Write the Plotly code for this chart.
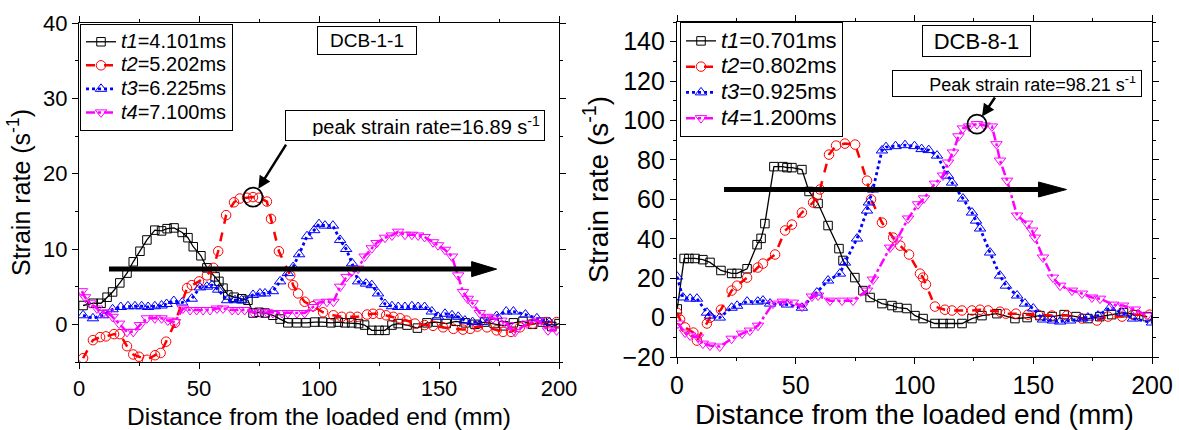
import plotly.graph_objects as go

# ---------------- DCB-1-1 (left panel) ----------------
a_t1_x = [1.7, 5.9, 9.2, 11.7, 14, 17, 20, 22.6, 25.4, 28.3, 31.6, 34.4, 36.7, 39.6, 43, 45.4, 47.6, 50.8, 53.3, 56.7,
          58.3, 60, 62, 64.6, 67.8, 70.4, 72.5, 75, 77.5, 80.8, 83.8, 87, 90.8, 94.6, 98.3, 101.5, 105, 108, 110.8, 113.6,
          116.5, 119, 122, 125, 127.5, 130.4, 133, 136.7, 141, 145, 149, 153, 157, 161, 165, 169, 173, 177, 181, 185,
          189, 193, 197, 200]
a_t1_y = [2.5, 2.8, 2.8, 3.6, 4.3, 5.5, 6.8, 8.3, 9.7, 11.2, 12.5, 12.4, 12.7, 12.8, 12.2, 11.5, 10.3, 9.1, 7.5, 6.3,
          5.7, 4.8, 3.9, 3.6, 3.4, 3.2, 1.5, 1.6, 1.5, 1.2, 0.7, 0.2, 0.2, 0.2, 0.3, 0.3, 0.2, 0.3, 0.2, 0.2,
          0.1, -0.1, -0.8, -0.8, -0.8, -0.1, 0.1, -0.1, -0.5, 0.2, 0.3, 0.1, 0.4, 0.2, 0.0, 0.3, 0.1, -0.2, 0.2, 0.4,
          0.0, 0.3, -0.3, 0.1]

a_t2_x = [1.7, 5.8, 8.8, 11.2, 14.6, 17, 20, 22.6, 25, 28.3, 31.7, 34, 36.3, 40, 45, 47, 50, 53.3, 56, 58, 61.3, 64.6,
          67, 70, 72.5, 75, 78.3, 80, 83.3, 88, 89.2, 91.3, 94, 97.5, 101.7, 106, 109.5, 113, 116, 120, 122.5, 125.4,
          128, 131, 133.8, 136.5, 140, 144, 147.5, 151.7, 156, 160, 163, 166, 170, 174, 176.7, 180, 183.7, 189, 195, 199]
a_t2_y = [-4.5, -2.1, -1.7, -1.6, -1.3, -1.3, -2.9, -4.0, -4.3, -4.7, -4.1, -3.8, -2.3, 0.2, 4.8, 5.2, 5.7, 6.5, 7.5,
          9.7, 14.5, 16.2, 16.7, 16.8, 16.89, 16.8, 16.3, 14.0, 9.7, 6.5, 5.2, 4.1, 3.0, 2.4, 1.6, 1.2, 1.0, 1.0, 1.0,
          1.3, 1.4, 1.4, 1.2, 1.0, 0.8, 0.5, 0.1, -0.1, -0.2, -0.4, -0.6, -0.7, -0.6, -0.3, -0.4, -0.8, -1.0, -1.0,
          -0.4, 0.1, 0.3, 0.3]

a_t3_x = [1.7, 5.8, 10, 14, 17.4, 20.4, 23.3, 26.1, 28.8, 31.6, 34.4, 36.5, 39.5, 43, 47, 50.4, 53.3, 55.4, 58, 61.7,
          65, 67.8, 72.5, 75.4, 77.5, 80.8, 83.8, 87, 89.2, 91.7, 95, 98, 100, 102.5, 105.8, 108.8, 111.3, 113.8, 116.3,
          119.6, 122, 124.6, 127.5, 130.4, 133, 135.8, 138.7, 141.3, 144, 147, 149.6, 152.5, 155.4, 158, 160.8, 164,
          167.9, 174, 178, 181, 186, 190.8, 196]
a_t3_y = [1.2, 0.8, 1.2, 2.0, 2.3, 2.4, 2.4, 2.4, 2.3, 2.4, 2.5, 2.7, 3.1, 2.9, 3.4, 4.9, 5.0, 5.2, 4.6, 3.2,
          3.2, 3.2, 3.9, 4.1, 4.1, 4.4, 5.7, 6.8, 7.6, 9.3, 11.7, 12.5, 13.3, 13.1, 13.1, 11.2, 10.0, 8.1, 5.7,
          5.4, 5.2, 4.1, 2.7, 2.4, 2.3, 2.3, 2.4, 2.3, 2.3, 1.7, 1.0, 1.4, 1.2, 1.0, 0.5, 0.3,
          0.3, 1.1, 1.7, 1.7, 1.3, 0.8, 0.3]

a_t4_x = [1.2, 2.5, 4.6, 7.5, 10, 12, 14, 16.7, 20, 22.6, 25.4, 28.3, 31.6, 34.4, 37, 40, 43.3, 46.3, 49, 51.7, 54.6,
          57.5, 60, 63.8, 66.3, 69, 72.5, 75.4, 78.3, 80.8, 84.6, 87, 90.8, 94, 97.5, 100, 103.3, 106, 108.8, 111.5,
          113.6, 116.3, 119, 122, 124, 127.5, 130.4, 133, 135.8, 138.7, 141.3, 144, 147.5, 149.6, 152.5, 155.4, 158,
          160, 162, 164, 167, 170, 172.5, 176, 178.8, 181.7, 186.7, 191.3, 195.4, 199]
a_t4_y = [4.4, 3.6, 2.8, 2.1, 1.5, 1.6, 1.0, 0.1, -1.0, -1.0, -0.1, 0.8, 0.8, 0.8, 0.5, 0.3, 2.1, 1.9, 1.9, 1.9, 1.9,
          2.1, 2.1, 1.9, 1.9, 1.9, 1.6, 1.6, 1.6, 1.5, 1.5, 1.5, 1.5, 1.5, 2.3, 2.9, 3.0, 3.0, 5.0, 6.3,
          7.0, 7.4, 9.0, 10.1, 10.8, 11.5, 11.8, 12.3, 11.9, 11.9, 11.8, 11.6, 10.9, 10.5, 9.9, 9.0, 6.5,
          4.3, 3.4, 2.8, 1.5, 1.0, 0.8, 0.5, -0.1, -1.0, 0.1, 0.5, -0.8, -0.8]

a_names = ["t1=4.101ms", "t2=5.202ms", "t3=6.225ms", "t4=7.100ms"]
a_peak = (72.5, 16.89)

# ---------------- DCB-8-1 (right panel) ----------------
b_t1_x = [0.1, 3, 5, 7.6, 10.9, 13.9, 18.5, 23, 25.3, 29.5, 33.7, 35.4, 37, 40.8, 44.6, 46.3, 48.4, 52.6, 55.6, 59.4,
          63.6, 68.2, 69.9, 74.9, 78.3, 81.3, 86.3, 90.5, 93, 96.8, 100.2, 103.6, 108.6, 112, 115, 120, 124.2, 128.4,
          134.7, 142.3, 147.4, 152.8, 158, 163, 168, 173, 178, 183, 188, 193, 198]
b_t1_y = [4.4, 30, 30, 30, 29.4, 28, 23.9, 22.4, 22.4, 24.8, 37, 40.2, 47.7, 76.6, 76.6, 76.1, 76.1, 75.1, 64, 57.9,
          46.7, 35, 29, 20.3, 13.7, 10.2, 7.1, 6.1, 5.1, 4.6, 1, -0.5, -3, -3, -3, -3, -0.5, 1,
          2, -0.5, 0, 1, 0.5, 1.5, 0.5, -0.5, 0.5, 1.5, 2.5, 1.5, 0.5]

b_t2_x = [0, 1.3, 3.4, 6.9, 8.4, 12.6, 13.9, 18.5, 23, 25.3, 29.5, 34, 36.2, 41.3, 45.5, 48.4, 52.6, 57.3, 58.9, 60.2,
          64, 67, 70.7, 75, 80, 81.7, 86.3, 91, 94, 97.7, 102.3, 103.6, 104.8, 108.6, 112.8, 115.8, 120, 124.2, 127.6,
          131, 136, 138.5, 142.7, 147.8, 152, 157.9, 164.2, 170.5, 176.8, 181.5, 187.4, 192, 199]
b_t2_y = [2.5, -1, -5, -7.6, -11.7, -3, 0, 4, 13.7, 16.2, 20.3, 25.4, 27.4, 32, 44.2, 47.2, 53.3, 58.4, 61.9, 65,
          82.7, 87.3, 88.3, 87.8, 69.5, 60, 48.2, 40.6, 36.5, 32, 22.3, 20.3, 16.8, 5.6, 4, 3.6, 3.6, 3.6, 4,
          3.6, 3, 2, 2, 1.5, 1.5, 1, 1, -0.5, -1.5, 0.5, 0.5, 1.5, 1.5]

b_t3_x = [0, 2.5, 5.5, 8.4, 12.6, 13.9, 18, 23, 25.3, 29.5, 34, 36.2, 39.2, 46.3, 52.6, 58.9, 63.6, 68.6, 70.7, 75.8,
          80, 80.8, 82.5, 86.3, 88, 92, 96, 100, 103, 106, 109.5, 114.1, 115.8, 120.4, 124.2, 125.9, 127.6, 131.8,
          136, 138.5, 143.2, 146.5, 150, 154.1, 158.3, 161.3, 165.5, 170.5, 173, 177.3, 182.3, 187.4, 192, 200]
b_t3_y = [20.8, 10.2, 9.6, 9.6, 2.5, 1, 0, 5, 6, 8.1, 8.1, 8.6, 7.1, 6.6, 5, 12.7, 18.8, 22.3, 27.9, 40.1,
          54.3, 58.4, 65, 84.8, 86.5, 87, 87.5, 87, 85.5, 85, 82.2, 72, 68.5, 60.4, 53.3, 49.2, 45.2, 33,
          21.3, 16.2, 11.2, 7.1, 4.6, -1, -1.5, -2, -1.5, -0.5, 0, 1, 5, 2.5, -0.5, -2.5]

b_t4_x = [0.4, 3.4, 5.5, 8.8, 10.9, 13.9, 18, 23, 27.4, 30.7, 34.1, 40.4, 44.6, 48.8, 52.6, 56.8, 59.4, 64.4, 69.5,
          74.1, 80, 82.5, 89.7, 92.6, 97.3, 101.5, 104, 108.6, 112, 114.1, 116.2, 118.5, 120.4, 123, 126.3, 129.5,
          132.6, 134.5, 136, 139, 143.2, 147.4, 149.5, 150.7, 154.1, 158.3, 161.3, 166.3, 170.5, 174.7, 178.1, 183.6,
          187.8, 192.8, 197.9]
b_t4_y = [-3, -7.6, -9.1, -10, -13.2, -14.2, -14.7, -10.7, -8.1, -6.6, -4.1, 7.1, 8.1, 7.6, 5.6, 10.7, 11.2, 8.6, 8.6,
          8.6, 13.7, 19.3, 35.5, 39.6, 50.3, 57.5, 60.5, 68, 72.1, 78.7, 83.8, 92, 96, 97, 98.21, 97.5,
          97, 88, 79.7, 69.5, 51.8, 47.7, 44.2, 40.6, 30.5, 20.3, 16.2, 13.7, 12.2, 10.2, 9.6, 6.6,
          6.1, 4.1, 1]

b_names = ["t1=0.701ms", "t2=0.802ms", "t3=0.925ms", "t4=1.200ms"]
b_peak = (126.3, 98.21)

# ---------------- styling ----------------
FONT = "Liberation Sans, Arial, sans-serif"
colors = ["#000000", "#ff0000", "#0000ff", "#ff00ff"]
dashes = ["solid", "dash", "dot", "dashdot"]
widths = [1.3, 2.5, 2.8, 2.5]
symbols = ["square-open", "circle-open", "triangle-up-open", "triangle-down-open"]
msizes = [8.5, 9.5, 10, 10]


def legend_label(name, px):
    # italic time symbol, upright value; drawn larger than the legend row font
    sym, val = name.split("=")
    return f'<span style="font-size:{px}px"><i>{sym}</i>={val}</span>'


fig = go.Figure()

panels = [
    ("x", "y", "legend", [(a_t1_x, a_t1_y), (a_t2_x, a_t2_y), (a_t3_x, a_t3_y), (a_t4_x, a_t4_y)], a_names, 20),
    ("x2", "y2", "legend2", [(b_t1_x, b_t1_y), (b_t2_x, b_t2_y), (b_t3_x, b_t3_y), (b_t4_x, b_t4_y)], b_names, 22),
]
for xa, ya, lg, series, names, lpx in panels:
    for i, (sx, sy) in enumerate(series):
        fig.add_trace(go.Scatter(
            x=sx, y=sy, mode="lines+markers", name=legend_label(names[i], lpx), xaxis=xa, yaxis=ya, legend=lg,
            line=dict(color=colors[i], width=widths[i], dash=dashes[i]),
            marker=dict(symbol=symbols[i], size=msizes[i], color=colors[i], line=dict(width=1, color=colors[i])),
        ))

axis_common = dict(showline=True, linecolor="black", linewidth=1.3, mirror="ticks", ticks="outside",
                   ticklen=6, tickwidth=1.3, tickcolor="black", showgrid=False, zeroline=False,
                   automargin=False)

fig.update_layout(
    width=1179, height=430, margin=dict(l=0, r=0, t=0, b=0, autoexpand=False),
    paper_bgcolor="white", plot_bgcolor="white",
    font=dict(family=FONT, color="black"),
    xaxis=dict(domain=[79 / 1179, 559 / 1179], range=[0, 200], dtick=50, anchor="y",
               minor=dict(dtick=25, ticks="outside", ticklen=3, tickcolor="black"),
               tickfont=dict(family=FONT, size=22, color="black"),
               title=dict(text="Distance from the loaded end (mm)", font=dict(family=FONT, size=24.5), standoff=10),
               **axis_common),
    yaxis=dict(domain=[1 - 362 / 430, 1 - 23 / 430], range=[-5, 40], dtick=10, tick0=0, anchor="x",
               minor=dict(dtick=5, ticks="outside", ticklen=3, tickcolor="black"),
               tickfont=dict(family=FONT, size=22, color="black"),
               title=dict(text="Strain rate (s<sup>-1</sup>)", font=dict(family=FONT, size=25), standoff=5),
               **axis_common),
    xaxis2=dict(domain=[677 / 1179, 1152 / 1179], range=[0, 200], dtick=50, anchor="y2",
                minor=dict(dtick=25, ticks="outside", ticklen=3, tickcolor="black"),
                tickfont=dict(family=FONT, size=25, color="black"),
                title=dict(text="Distance from the loaded end (mm)", font=dict(family=FONT, size=28), standoff=7),
                **axis_common),
    yaxis2=dict(domain=[1 - 357 / 430, 1 - 22 / 430], range=[-20, 150], dtick=20, tick0=0, anchor="x2",
                minor=dict(dtick=10, ticks="outside", ticklen=3, tickcolor="black"),
                tickfont=dict(family=FONT, size=25, color="black"),
                title=dict(text="Strain rate (s<sup>-1</sup>)", font=dict(family=FONT, size=28), standoff=5),
                **axis_common),
    legend=dict(x=80 / 1179, y=1 - 24 / 430, xanchor="left", yanchor="top", bgcolor="white",
                bordercolor="black", borderwidth=1, font=dict(family=FONT, size=15.8), tracegroupgap=0),
    legend2=dict(x=680 / 1179, y=1 - 22 / 430, xanchor="left", yanchor="top", bgcolor="white",
                 bordercolor="black", borderwidth=1, font=dict(family=FONT, size=17.5), tracegroupgap=0),
)

# Specimen labels and peak annotations
fig.add_annotation(x=120, y=37.7, xref="x", yref="y", text="DCB-1-1", showarrow=False,
                   font=dict(family=FONT, size=19), bordercolor="black", borderwidth=1, borderpad=0,
                   width=98, height=27, bgcolor="white")
fig.add_annotation(x=140, y=26.4, xref="x", yref="y", text="peak strain rate=16.89 s<sup>-1</sup>",
                   showarrow=False, font=dict(family=FONT, size=20), bordercolor="black", borderwidth=1,
                   borderpad=4, width=250, height=21, align="right", bgcolor="white")
fig.add_annotation(x=126.1, y=140.5, xref="x2", yref="y2", text="DCB-8-1", showarrow=False,
                   font=dict(family=FONT, size=22), bordercolor="black", borderwidth=1, borderpad=0,
                   width=107, height=30, bgcolor="white")
fig.add_annotation(x=143.2, y=119, xref="x2", yref="y2", text="Peak strain rate=98.21 s<sup>-1</sup>",
                   showarrow=False, font=dict(family=FONT, size=18), bordercolor="black", borderwidth=1,
                   borderpad=5, width=238, height=15, align="right", bgcolor="white")

# Pointer arrows to the peaks
fig.add_annotation(x=a_peak[0], y=a_peak[1], xref="x", yref="y", text="", showarrow=True,
                   ax=34, ay=-54, arrowhead=2, arrowwidth=2.5, arrowsize=1, arrowcolor="black", standoff=10)
fig.add_annotation(x=b_peak[0], y=b_peak[1], xref="x2", yref="y2", text="", showarrow=True,
                   ax=19, ay=-28, arrowhead=2, arrowwidth=2.5, arrowsize=1, arrowcolor="black", standoff=9)

# Circles around the peaks
for (px, py), xr, yr in [(a_peak, "x", "y"), (b_peak, "x2", "y2")]:
    fig.add_shape(type="circle", xref=xr, yref=yr, xsizemode="pixel", ysizemode="pixel",
                  xanchor=px, yanchor=py, x0=-9.5, x1=9.5, y0=-9.5, y1=9.5,
                  line=dict(color="black", width=1.8))

# Propagation-direction arrows (shaft + head)
prop_arrows = [
    # xref, yref, x_start, x_tip, y, head length (x units), head half-height (y units)
    ("x", "y", 12.5, 174, 7.33, 10.4, 1.0),
    ("x2", "y2", 19.8, 164, 65, 11.8, 3.8),
]
for xr, yr, xs, xt, yv, hl, hh in prop_arrows:
    fig.add_shape(type="line", xref=xr, yref=yr, x0=xs, x1=xt - hl * 0.5, y0=yv, y1=yv,
                  line=dict(color="black", width=5))
    fig.add_shape(type="path", xref=xr, yref=yr,
                  path=f"M {xt - hl},{yv - hh} L {xt},{yv} L {xt - hl},{yv + hh} Z",
                  fillcolor="black", line=dict(color="black", width=1))

fig.write_html("out.html")
